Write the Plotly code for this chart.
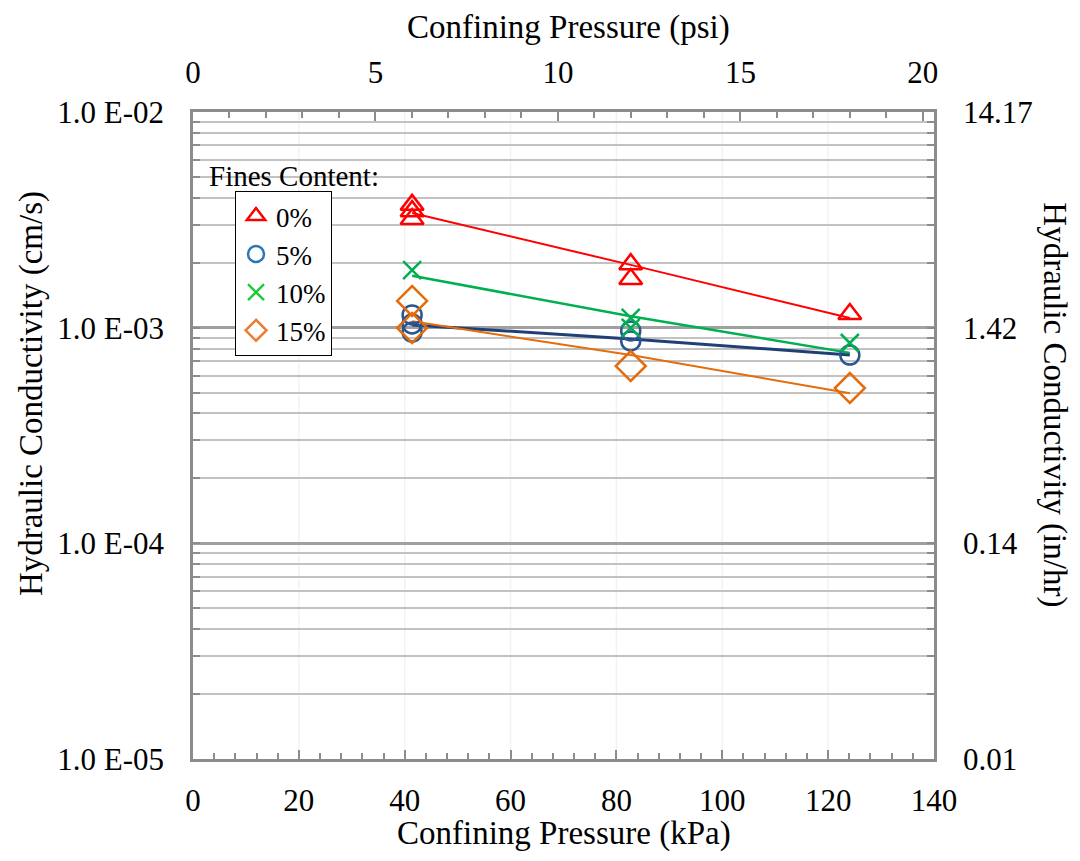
import math
import plotly.graph_objects as go

# ---------------- data ----------------
KPA_PER_PSI = 6.89476
INHR_PER_CMS = 3600 / 2.54

fit_x = [41.4, 82.7, 124.1]

k00_x = [41.4, 41.4, 41.4, 82.7, 82.7, 124.1]
k00_y = [3.71e-3, 3.47e-3, 3.19e-3, 1.97e-3, 1.68e-3, 1.157e-3]
fit00 = [3.40e-3, 1.955e-3, 1.109e-3]

k05_x = [41.4, 41.4, 41.4, 82.7, 82.7, 124.1]
k05_y = [1.146e-3, 1.04e-3, 9.54e-4, 9.66e-4, 8.68e-4, 7.46e-4]
fit05 = [1.03e-3, 8.87e-4, 7.46e-4]

k10_x = [41.4, 82.7, 82.7, 124.1]
k10_y = [1.85e-3, 1.11e-3, 9.97e-4, 8.49e-4]
fit10 = [1.74e-3, 1.13e-3, 7.64e-4]

k15_x = [41.4, 41.4, 82.7, 124.1]
k15_y = [1.33e-3, 9.97e-4, 6.64e-4, 5.25e-4]
fit15 = [1.07e-3, 7.46e-4, 4.97e-4]

legend_names = ["0%", "5%", "10%", "15%"]

x_ticks_kpa = [0, 20, 40, 60, 80, 100, 120, 140]
x_ticks_psi = [0, 5, 10, 15, 20]
y_ticks = [1e-5, 1e-4, 1e-3, 1e-2]
y_tick_labels = ["1.0 E-05", "1.0 E-04", "1.0 E-03", "1.0 E-02"]
y2_tick_labels = ["0.01", "0.14", "1.42", "14.17"]

# ---------------- style ----------------
FONT = "Liberation Serif"
AXC = "#8C8C8C"
RED = "#FF0000"
BLUE_D = "#2A5591"
BLUE_L = "#2E75B6"
BLUE_LINE = "#1F3F77"
GREEN = "#00B050"
GREEN_L = "#1ECB3C"
ORANGE = "#E46C0A"
ORANGE_L = "#ED7D31"

minor_y = [m * 10 ** e for e in range(-5, -2) for m in range(2, 10)]

fig = go.Figure()

# fitted lines
for xs, ys, col, w in [(fit_x, fit00, RED, 2), (fit_x, fit10, GREEN, 2.5),
                       (fit_x, fit05, BLUE_LINE, 3), (fit_x, fit15, ORANGE, 2)]:
    fig.add_trace(go.Scatter(x=xs, y=ys, mode="lines", showlegend=False,
                             line=dict(color=col, width=w), hoverinfo="skip"))

# measured points
pts = [
    (k00_x, k00_y, "triangle-up-open", RED, 20),
    (k05_x, k05_y, "circle-open", BLUE_D, 19),
    (k10_x, k10_y, "x-thin-open", GREEN, 18),
    (k15_x, k15_y, "diamond-open", ORANGE, 23),
]
for xs, ys, sym, col, sz in pts:
    fig.add_trace(go.Scatter(x=xs, y=ys, mode="markers", showlegend=False,
                             marker=dict(symbol=sym, size=sz, color=col,
                                         line=dict(color=col, width=2.5))))

# legend entries
for name, sym, col in zip(legend_names,
                          ["triangle-up-open", "circle-open", "x-thin-open", "diamond-open"],
                          [RED, BLUE_L, GREEN_L, ORANGE_L]):
    fig.add_trace(go.Scatter(x=[None], y=[None], mode="markers", name=name,
                             marker=dict(symbol=sym, size=16, color=col,
                                         line=dict(color=col, width=2.5))))

# dummy traces to activate secondary axes
fig.add_trace(go.Scatter(x=[None], y=[None], xaxis="x2", yaxis="y", showlegend=False))
fig.add_trace(go.Scatter(x=[None], y=[None], xaxis="x", yaxis="y2", showlegend=False))

# faint vertical breaks in the horizontal gridlines
for v in x_ticks_kpa[1:-1]:
    fig.add_shape(type="line", xref="x", yref="paper", x0=v, x1=v, y0=0, y1=1,
                  line=dict(color="#F2F2F2", width=1.5), layer="between")

tickfont = dict(family=FONT, size=31, color="black")
titlefont = dict(family=FONT, size=33, color="black")

fig.update_layout(
    width=1080, height=861,
    margin=dict(l=185, r=154, t=104, b=110),
    paper_bgcolor="white", plot_bgcolor="white",
    font=dict(family=FONT, color="black"),
    xaxis=dict(range=[0, 140], tickvals=x_ticks_kpa, ticks="inside", ticklen=9,
               tickwidth=2, tickcolor=AXC, showline=True, linecolor=AXC, linewidth=2.5,
               showgrid=False, zeroline=False, tickfont=tickfont, ticklabelstandoff=12,
               minor=dict(dtick=4, ticks="inside", ticklen=6, tickwidth=1.5, tickcolor=AXC)),
    xaxis2=dict(range=[0, 140 / KPA_PER_PSI], overlaying="x", side="top", anchor="y",
                tickvals=x_ticks_psi, ticks="inside", ticklen=9, tickwidth=2, tickcolor=AXC,
                showline=True, linecolor=AXC, linewidth=2.5, showgrid=False, zeroline=False,
                tickfont=tickfont, ticklabelstandoff=14,
                minor=dict(dtick=1, ticks="inside", ticklen=6, tickwidth=1.5, tickcolor=AXC)),
    yaxis=dict(type="log", range=[-5, -2], tickvals=y_ticks, ticktext=y_tick_labels,
               ticks="inside", ticklen=7, tickcolor=AXC, tickwidth=2,
               showline=True, linecolor=AXC, linewidth=2.5, showgrid=True,
               gridcolor="#A0A0A0", gridwidth=2.5, zeroline=False, tickfont=tickfont,
               ticklabelstandoff=20,
               minor=dict(tickvals=minor_y, showgrid=True, gridcolor="#C2C2C2", gridwidth=2,
                          ticks="inside", ticklen=7, tickcolor=AXC, tickwidth=1.5)),
    yaxis2=dict(type="log", overlaying="y", side="right", anchor="x",
                range=[math.log10(y_ticks[0] * INHR_PER_CMS), math.log10(y_ticks[-1] * INHR_PER_CMS)],
                tickvals=[v * INHR_PER_CMS for v in y_ticks], ticktext=y2_tick_labels,
                ticks="inside", ticklen=7, tickcolor=AXC, tickwidth=2,
                showline=True, linecolor=AXC, linewidth=2.5, showgrid=False, zeroline=False,
                tickfont=tickfont, ticklabelstandoff=20,
                minor=dict(tickvals=[v * INHR_PER_CMS for v in minor_y], ticks="inside",
                           ticklen=7, tickcolor=AXC, tickwidth=1.5, showgrid=False)),
    legend=dict(x=0.0567, y=0.878, xanchor="left", yanchor="top",
                bordercolor="black", borderwidth=1, bgcolor="white",
                font=dict(family=FONT, size=27, color="black"),
                tracegroupgap=0, itemwidth=30),
    showlegend=True,
    annotations=[
        dict(text="Fines Content:", xref="paper", yref="paper", x=0.019, y=0.901,
             xanchor="left", yanchor="middle", showarrow=False,
             font=dict(family=FONT, size=29, color="black")),
        dict(text="Confining Pressure (psi)", xref="paper", yref="paper",
             x=0.507, y=1.13, xanchor="center", yanchor="middle",
             showarrow=False, font=titlefont),
        dict(text="Confining Pressure (kPa)", xref="paper", yref="paper",
             x=0.5, y=-0.1144, xanchor="center", yanchor="middle",
             showarrow=False, font=titlefont),
        dict(text="Hydraulic Conductivity (cm/s)", xref="paper", yref="paper",
             x=-0.2186, y=0.564, xanchor="center", yanchor="middle", textangle=-90,
             showarrow=False, font=titlefont),
        dict(text="Hydraulic Conductivity (in/hr)", xref="paper", yref="paper",
             x=1.163, y=0.547, xanchor="center", yanchor="middle", textangle=90,
             showarrow=False, font=titlefont),
    ],
)

fig.write_html("out.html")
